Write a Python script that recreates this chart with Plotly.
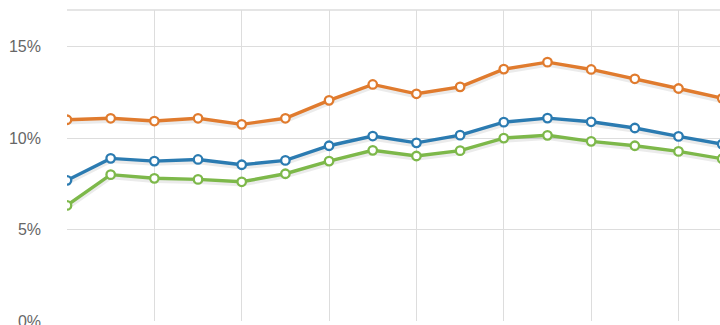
import plotly.graph_objects as go

x_idx = list(range(16))
orange = [11.0, 11.08, 10.93, 11.08, 10.75, 11.08, 12.06, 12.93, 12.42, 12.80, 13.77, 14.15, 13.75, 13.24, 12.71, 12.17]
blue = [7.69, 8.89, 8.74, 8.83, 8.54, 8.78, 9.58, 10.11, 9.74, 10.16, 10.87, 11.09, 10.89, 10.55, 10.09, 9.67]
green = [6.32, 8.00, 7.80, 7.74, 7.61, 8.05, 8.74, 9.33, 9.02, 9.31, 10.00, 10.15, 9.82, 9.58, 9.27, 8.87]
y_ticks = [0, 5, 10, 15]
y_labels = ["0%", "5%", "10%", "15%"]

series = [
    (orange, "#E07B2E"),
    (blue, "#2B7BB1"),
    (green, "#7DB84A"),
]

fig = go.Figure()
for vals, col in series:
    # soft shadow
    fig.add_trace(go.Scatter(
        x=x_idx, y=[v - 0.12 for v in vals], mode="lines",
        line=dict(color="rgba(0,0,0,0.08)", width=5),
        hoverinfo="skip", showlegend=False))
for vals, col in series:
    fig.add_trace(go.Scatter(
        x=x_idx, y=vals, mode="lines+markers",
        line=dict(color=col, width=3.4),
        marker=dict(size=8.5, color="white", line=dict(color=col, width=2.3)),
        showlegend=False, cliponaxis=True))

fig.update_layout(
    width=720, height=325,
    margin=dict(l=67, r=0, t=10, b=4),
    paper_bgcolor="white", plot_bgcolor="white",
    font=dict(family="Liberation Sans, Arial, sans-serif", size=16, color="#666666"),
)
fig.update_xaxes(
    range=[0, 14.95], tick0=0, dtick=2, showgrid=True, gridcolor="#DDDDDD",
    gridwidth=1, showticklabels=False, zeroline=False, showline=False,
    automargin=False,
)
fig.update_yaxes(
    range=[0, 17], tickvals=y_ticks, ticktext=y_labels, showgrid=True,
    gridcolor="#DDDDDD", gridwidth=1, zeroline=False, showline=False,
    ticklabelstandoff=25, ticklabeloverflow="allow", automargin=False,
)
fig.add_shape(type="line", xref="paper", yref="paper", x0=0, x1=1, y0=1, y1=1,
              line=dict(color="#DDDDDD", width=1.5))
fig.write_html("out.html")
